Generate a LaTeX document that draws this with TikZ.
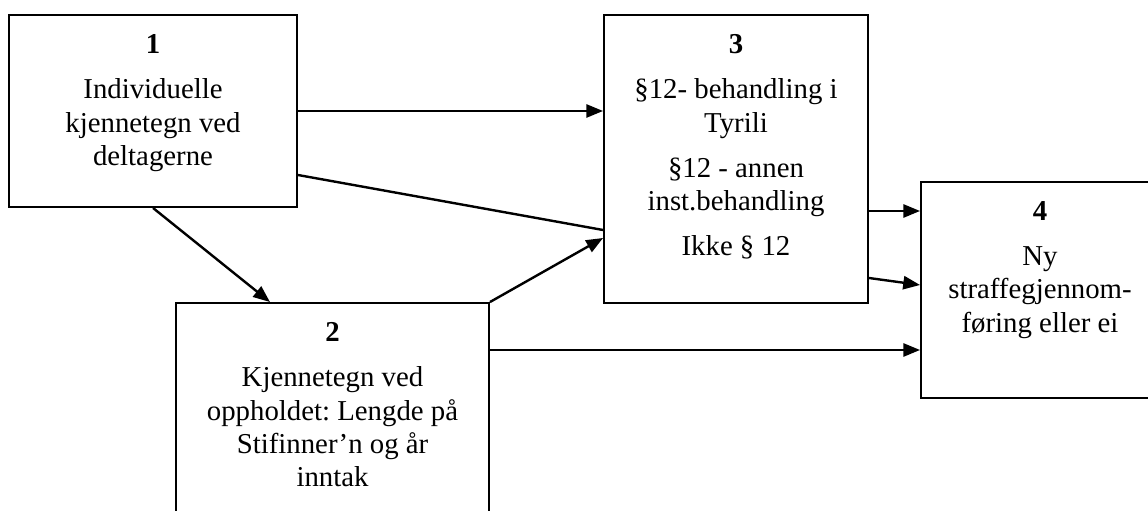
\documentclass[tikz,border=0pt]{standalone}
\usepackage{fontspec}
\setmainfont{Liberation Serif}
\frenchspacing
\usetikzlibrary{arrows.meta,calc,positioning}

\begin{document}
\begin{tikzpicture}[
            x=0.41667pt, y=-0.41667pt,
            box/.style={draw, line width=0.8pt, inner sep=0pt},
            boxtext/.style={anchor=north, inner sep=0pt, yshift=-8.45pt, align=center,
              font=\fontsize{12}{13.8}\selectfont},
            conn/.style={line width=1pt},
            arr/.style={conn, -{Triangle[length=7pt,width=5.5pt]}}
          ]
          \clip (0,0) rectangle (1148,511);

          % Boxes
          \node[box, minimum width=288*0.41667pt, minimum height=192*0.41667pt] (b1) at (153,111) {};
          \node[box, minimum width=313*0.41667pt, minimum height=222*0.41667pt] (b2) at (332.5,414) {};
          \node[box, minimum width=264*0.41667pt, minimum height=288*0.41667pt] (b3) at (736,159) {};
          \node[box, minimum width=238*0.41667pt, minimum height=216*0.41667pt] (b4) at (1040,290) {};

          % Texts
          \node[boxtext] (t1) at (b1.north) {\textbf{1}\\[5pt]Individuelle\\kjennetegn ved\\deltagerne};
          \node[boxtext] (t2) at (b2.north) {\textbf{2}\\[5pt]Kjennetegn ved\\oppholdet: Lengde på\\Stifinner’n og år\\inntak};
          \node[boxtext] (t3) at (b3.north) {\textbf{3}\\[5pt]§12- behandling i\\Tyrili\\[5pt]§12 - annen\\inst.behandling\\[5pt]Ikke § 12};
          \node[boxtext] (t4) at (b4.north) {\textbf{4}\\[5pt]Ny\\straffegjennom-\\føring eller ei};

          % Edges
          \draw[arr] (b1.east) -- (b1.east -| b3.west);
          \draw[conn] ($(b1.east)+(0,64)$) -- ($(b3.west)+(0,71)$);
          \draw[arr] (b1.south) -- ($(b2.north)+(-62.5,0)$);
          \draw[arr] (b2.north east) -- ($(b3.west)+(0,79)$);
          \draw[arr] ($(b2.east)+(0,-64)$) coordinate (c5) -- (b4.west |- c5);
          \draw[arr] ($(b3.east)+(0,52)$) coordinate (c6) -- (b4.west |- c6);
          \draw[arr] ($(b3.east)+(0,119)$) -- ($(b4.west)+(0,-5)$);

        \end{tikzpicture}
\end{document}
